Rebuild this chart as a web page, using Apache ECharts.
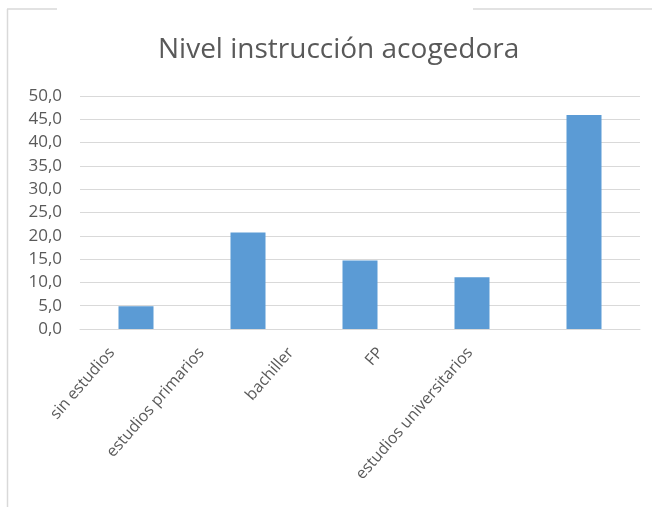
<!DOCTYPE html>
<html>
<head>
<meta charset="utf-8">
<script src="https://cdn.jsdelivr.net/npm/echarts@6/dist/echarts.min.js"></script>
<style>
  html, body { margin: 0; padding: 0; background: #ffffff; }
  #chart { width: 652px; height: 507px; }
</style>
</head>
<body>
<div id="chart"></div>
<script>
// Nivel de instrucción de la familia acogedora (%)
const categories = ['sin estudios', 'estudios primarios', 'bachiller', 'FP', 'estudios universitarios'];
const values = [4.9, 20.7, 14.7, 11.1, 45.9];
const yTicks = { min: 0, max: 50, interval: 5 };

const FONT = '"Open Sans", "Noto Sans", sans-serif';
const TEXT = '#595959';
const LINE = '#d9d9d9';

const chart = echarts.init(document.getElementById('chart'), null, { renderer: 'canvas' });

chart.setOption({
  backgroundColor: '#ffffff',
  animation: false,
  title: {
    text: 'Nivel instrucción acogedora',
    left: 153,
    top: 31,
    textStyle: { fontFamily: FONT, fontSize: 28, fontWeight: 'normal', color: TEXT }
  },
  grid: [
    // plot area
    { left: 80, right: 12, top: 96, bottom: 178, containLabel: false },
    // band used to place the slanted category labels
    { left: 67, width: 447.5, top: 96, bottom: 178, containLabel: false }
  ],
  xAxis: [
    {
      type: 'category',
      gridIndex: 0,
      data: categories,
      axisLine: { show: true, lineStyle: { color: LINE, width: 1 } },
      axisTick: { show: false },
      axisLabel: { show: false },
      splitLine: { show: false }
    },
    {
      type: 'category',
      gridIndex: 1,
      data: categories,
      axisLine: { show: false },
      axisTick: { show: false },
      splitLine: { show: false },
      axisLabel: {
        show: true,
        interval: 0,
        rotate: 49,
        margin: 21,
        fontFamily: FONT,
        fontSize: 16,
        color: TEXT
      }
    }
  ],
  yAxis: [
    {
      type: 'value',
      gridIndex: 0,
      min: yTicks.min,
      max: yTicks.max,
      interval: yTicks.interval,
      axisLine: { show: false },
      axisTick: { show: false },
      splitLine: { show: true, lineStyle: { color: LINE, width: 1 } },
      axisLabel: {
        margin: 18,
        fontFamily: FONT,
        fontSize: 17,
        color: TEXT,
        formatter: v => v.toFixed(1).replace('.', ',')
      }
    },
    {
      type: 'value',
      gridIndex: 1,
      show: false,
      min: 0,
      max: 1
    }
  ],
  series: [
    {
      type: 'bar',
      xAxisIndex: 0,
      yAxisIndex: 0,
      data: values,
      barWidth: 35,
      itemStyle: { color: '#5b9bd5' }
    }
  ],
  graphic: [
    // chart-area frame (partly hidden along the top)
    { type: 'line', shape: { x1: 7.5, y1: 9, x2: 7.5, y2: 507 }, style: { stroke: LINE, lineWidth: 1.5 } },
    { type: 'line', shape: { x1: 7, y1: 9, x2: 57, y2: 9 }, style: { stroke: LINE, lineWidth: 1.5 } },
    { type: 'line', shape: { x1: 473, y1: 9, x2: 652, y2: 9 }, style: { stroke: LINE, lineWidth: 1.5 } }
  ]
});
</script>
</body>
</html>
